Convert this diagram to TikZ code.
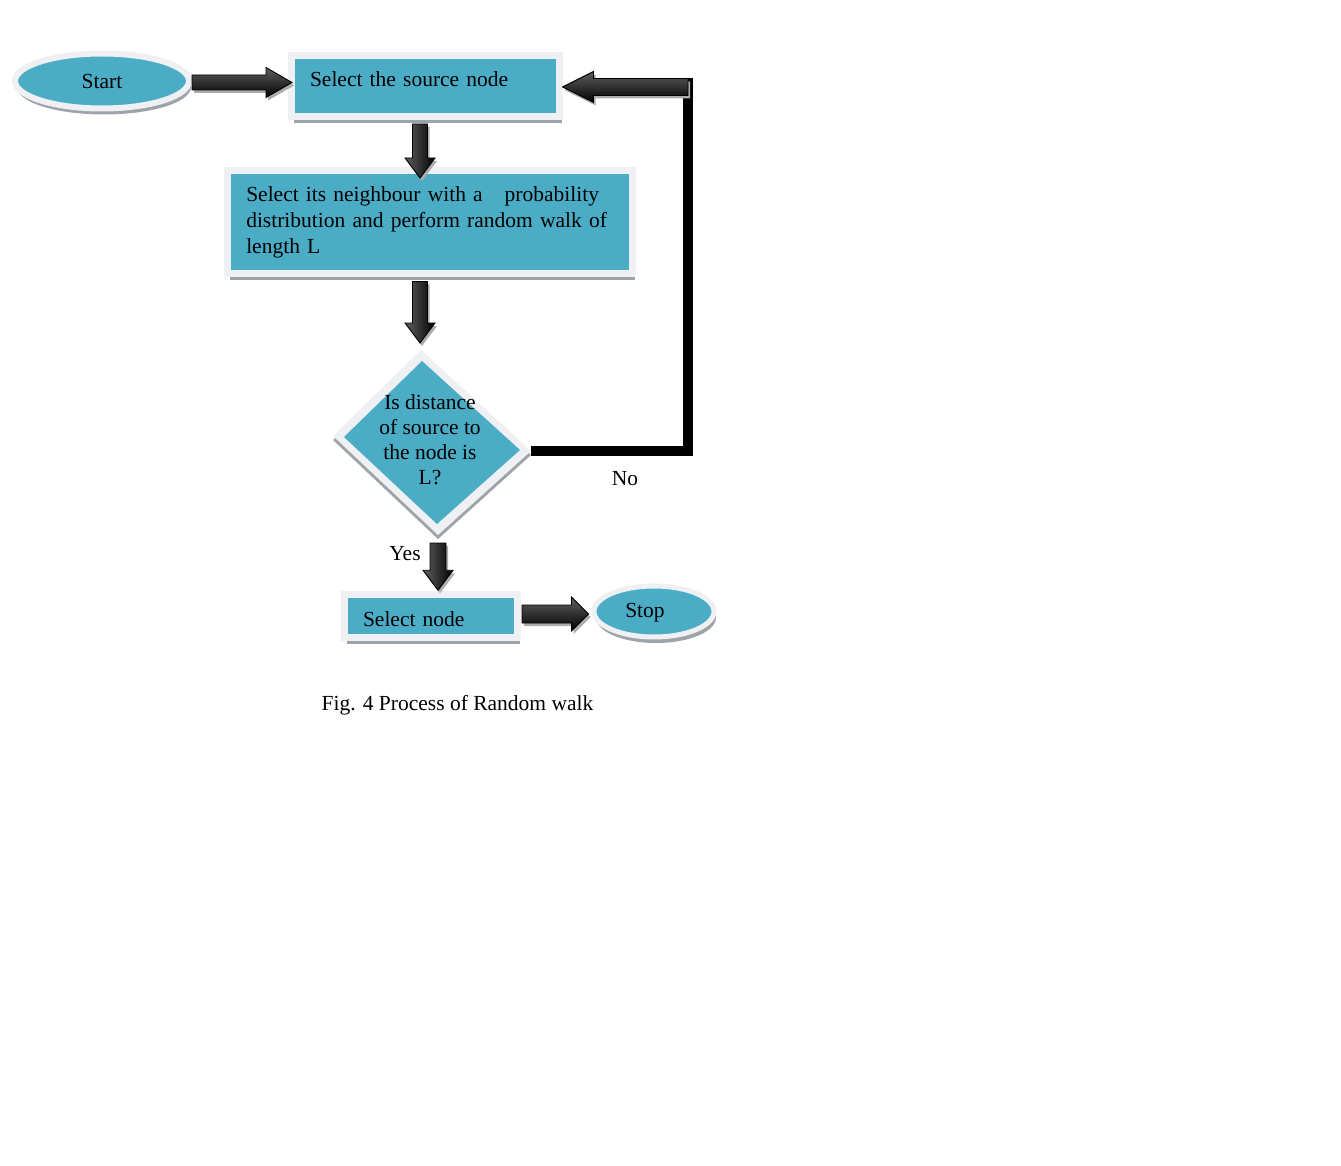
\documentclass[tikz,border=0pt]{standalone}
\usepackage{fontspec}
\setmainfont{Liberation Serif}
\usetikzlibrary{calc,shapes.geometric,shadows}
\definecolor{aqua}{HTML}{4BACC6}
\definecolor{framec}{HTML}{EEF0F3}
\definecolor{shadowc}{HTML}{9EA3AA}
\tikzset{
  txt/.style={font=\fontsize{21.5}{26}\selectfont, inner sep=0pt},
  boxnode/.style={rectangle, fill=aqua, draw=framec, line width=7pt, txt,
     drop shadow={shadow xshift=2.5pt, shadow yshift=-6.5pt, fill=shadowc, opacity=1}},
  ovalnode/.style={ellipse, fill=aqua, draw=framec, line width=6pt, txt,
     drop shadow={shadow xshift=2pt, shadow yshift=-6pt, fill=shadowc, opacity=1}},
  barrow/.style={draw=black, line width=0.9pt, line join=miter,
     drop shadow={shadow xshift=2pt, shadow yshift=-3pt, fill=gray!65, opacity=1}},
  hshade/.style={top color=gray!75!black, bottom color=black},
  vshade/.style={left color=gray!75!black, right color=black},
}
% right-pointing block arrow: #1 from, #2 tip, #3 shaft half, #4 head half, #5 head length
\newcommand\rarr[5]{\path[barrow,hshade] let \p1=#1,\p2=#2 in
  (\x1,\y2+#3) -- (\x2-#5,\y2+#3) -- (\x2-#5,\y2+#4) -- (\x2,\y2) --
  (\x2-#5,\y2-#4) -- (\x2-#5,\y2-#3) -- (\x1,\y2-#3) -- cycle;}
\newcommand\larr[5]{\path[barrow,hshade] let \p1=#1,\p2=#2 in
  (\x1,\y2+#3) -- (\x2+#5,\y2+#3) -- (\x2+#5,\y2+#4) -- (\x2,\y2) --
  (\x2+#5,\y2-#4) -- (\x2+#5,\y2-#3) -- (\x1,\y2-#3) -- cycle;}
\newcommand\darr[5]{\path[barrow,vshade] let \p1=#1,\p2=#2 in
  (\x2-#3,\y1) -- (\x2-#3,\y2+#5) -- (\x2-#4,\y2+#5) -- (\x2,\y2) --
  (\x2+#4,\y2+#5) -- (\x2+#3,\y2+#5) -- (\x2+#3,\y1) -- cycle;}
\begin{document}
\begin{tikzpicture}[x=1pt,y=-1pt]
\fill[white] (0,0) rectangle (1341,1166);
\path[use as bounding box] (0,0) rectangle (1341,1166);

% diamond
\coordinate (dtop) at (421,350);
\coordinate (dright) at (531,451);
\coordinate (dbot) at (438,535);
\coordinate (dleft) at (333,436);
\coordinate (c1) at (688,451);
\coordinate (c2) at (688,78);

% No-loop line
\draw[line width=10pt, line join=miter] (dright) -- (c1) -- (c2);

\fill[shadowc] ([yshift=-4pt]dtop) -- ([yshift=-4pt]dright) -- ([yshift=-4pt]dbot) -- ([yshift=-4pt]dleft) -- cycle;
\fill[framec] (dtop) -- (dright) -- (dbot) -- (dleft) -- cycle;
\fill[aqua] (422,361) -- (520,450) -- (437,524) -- (344,437) -- cycle;
\node[txt, align=center, font=\fontsize{21.5}{25}\selectfont] (dtext) at (430,440)
  {Is distance\\of source to\\the node is\\L?};

% nodes
\node[ovalnode, minimum width=174pt, minimum height=55pt] (start) at (102,81) {Start};
\node[boxnode, minimum width=268pt, minimum height=61pt, text width=230pt, align=left,
      inner xsep=19pt, inner ysep=0pt, text height=14pt, text depth=12pt] (box1) at (425,86)
  {Select the source node};
\node[boxnode, minimum height=103pt, text width=367.5pt, align=left,
      inner xsep=18.5pt, inner ysep=0pt] (box2) at (430,222.5)
  {Select its neighbour with a\hspace*{22pt}probability\\
   distribution and perform random walk of\\
   length L};
\node[boxnode, minimum height=42.5pt, text width=136pt, align=left,
      inner xsep=18.5pt, inner ysep=0pt, text height=25pt, text depth=5pt] (sel) at (431,616)
  {Select node};
\node[ovalnode, line width=5pt, minimum width=120pt, minimum height=51pt,
      text height=17pt, text depth=5pt] (stop) at (654,611.5)
  {Stop\hspace*{18pt}};

% arrows
\rarr{(start.east)}{([xshift=4.5pt,yshift=3.5pt]box1.west)}{7.5pt}{15pt}{26pt}
\darr{([yshift=-4pt]box1.south)}{([xshift=-10pt,yshift=-10.5pt]box2.north)}{7.5pt}{15pt}{20pt}
\darr{([yshift=-4pt]box2.south)}{([xshift=-1pt,yshift=7pt]dtop)}{7.5pt}{15pt}{20pt}
\darr{([yshift=-8pt]dbot)}{([xshift=7pt,yshift=1pt]sel.north)}{8pt}{15pt}{20pt}
\rarr{([xshift=1pt]sel.east)}{([xshift=-3pt,yshift=-2.5pt]stop.west)}{9pt}{17pt}{17pt}
\larr{(c2)}{([yshift=-1pt]box1.east)}{8.5pt}{15.5pt}{31pt}

% labels
\node[txt] (no) at (625,479) {No};
\node[txt] (yes) at (405,554) {Yes};
\node[txt] (cap) at (457.5,705.5) {Fig. 4 Process of Random walk};
\end{tikzpicture}
\end{document}
